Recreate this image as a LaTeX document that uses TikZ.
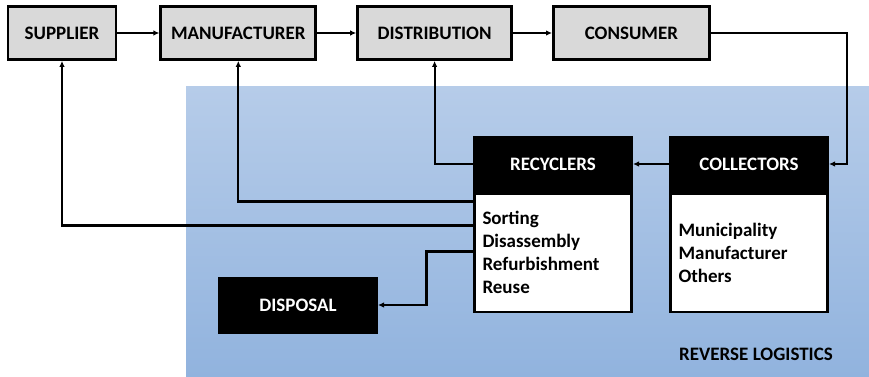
\documentclass[tikz,border=0pt]{standalone}
\usepackage{xcolor}
\usepackage{fontspec}
\setmainfont{Carlito}
\usetikzlibrary{calc,positioning,arrows.meta}

\definecolor{rltop}{RGB}{182,204,233}
\definecolor{rlbot}{RGB}{145,179,222}
\definecolor{chain}{RGB}{217,217,217}

\tikzset{
    chainbox/.style={draw=black,line width=2.8pt,fill=chain,minimum height=53pt,font=\fontsize{19}{23}\selectfont\bfseries},
    headbox/.style={draw=black,fill=black,line width=1pt,text=white,minimum width=159pt,minimum height=56pt,font=\fontsize{19}{23}\selectfont\bfseries},
    bodybox/.style={draw=black,fill=white,line width=2.2pt,text width=141pt,minimum height=118pt,inner xsep=8pt,align=left,font=\fontsize{19}{23}\selectfont\bfseries},
    arr/.style={line width=2.2pt,-{Latex[length=6pt,width=5.5pt]}}
}

\begin{document}
\begin{tikzpicture}[x=1pt,y=-1pt]
        \useasboundingbox (0,0) rectangle (869,377);
        %background
        \shade[top color=rltop,bottom color=rlbot] (186,87) rectangle (869,377);

        %nodes
        \node[chainbox,minimum width=108pt] (SUP) at (62,33) {SUPPLIER};
        \node[chainbox,minimum width=155pt,right = 42pt of SUP] (MAN) {MANUFACTURER};
        \node[chainbox,minimum width=154pt,right = 39pt of MAN] (DIS) {DISTRIBUTION};
        \node[chainbox,minimum width=156pt,right = 39pt of DIS] (CON) {CONSUMER};

        \node[headbox] (REC) at (553,164) {RECYCLERS};
        \node[bodybox,below = 0pt of REC] (RECb) {Sorting\\Disassembly\\Refurbishment\\Reuse};
        \node[headbox,right = 36pt of REC] (COL) {COLLECTORS};
        \node[bodybox,below = 0pt of COL] (COLb) {Municipality\\Manufacturer\\Others};

        \node[headbox] (DSP) at (298,305) {DISPOSAL};
        \node[font=\fontsize{19}{23}\selectfont\bfseries] (RL) at (756,354) {REVERSE LOGISTICS};

        %connectors
        \coordinate (turn) at (847,33);
        \draw[arr] (SUP) -- (MAN);
        \draw[arr] (MAN) -- (DIS);
        \draw[arr] (DIS) -- (CON);
        \draw[arr] (CON.east) -- (turn) |- (COL.east);
        \draw[arr] (COL) -- (REC);
        \draw[arr] (REC.west) -| (DIS.south);
        \draw[arr] ([yshift=-9pt]RECb.north west) -| (MAN.south);
        \draw[arr] ([yshift=-33pt]RECb.north west) -| (SUP.south);
        \draw[arr] ([yshift=-59pt]RECb.north west) -- ++(-47,0) |- (DSP.east);
\end{tikzpicture}
\end{document}
